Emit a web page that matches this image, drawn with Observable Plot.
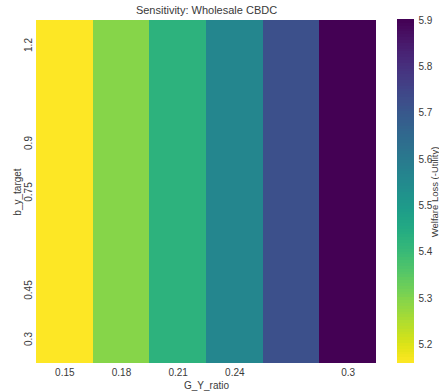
<!DOCTYPE html>
<html>
<head>
<meta charset="utf-8">
<script src="https://cdn.jsdelivr.net/npm/d3@7"></script>
<script src="https://cdn.jsdelivr.net/npm/@observablehq/plot@0.6"></script>
<style>
  html, body { margin: 0; padding: 0; background: #fff; }
  #wrap { position: relative; width: 439px; height: 392px; overflow: hidden; font-family: "Liberation Sans", Arial, sans-serif; }
  #wrap svg { position: absolute; top: 0; }
</style>
</head>
<body>
<div id="wrap"></div>
<script>
// ---- data ----
const title = "Sensitivity: Wholesale CBDC";
const xLabel = "G_Y_ratio";
const yLabel = "b_y_target";
const colorLabel = "Welfare Loss (-Utility)";
const gyRatio = [0.15, 0.18, 0.21, 0.24, 0.27, 0.30];
const xTickLabels = ["0.15", "0.18", "0.21", "0.24", "", "0.3"];
const byTarget = [0.3, 0.45, 0.6, 0.75, 0.9, 1.05, 1.2];
const yTicks = [0.3, 0.45, 0.75, 0.9, 1.2];
const yTickLabels = ["0.3", "0.45", "0.75", "0.9", "1.2"];
const welfareLoss = [5.16, 5.295, 5.425, 5.56, 5.72, 5.90]; // per G_Y_ratio column (same for each b_y_target row)
const colorTicks = [5.2, 5.3, 5.4, 5.5, 5.6, 5.7, 5.8, 5.9];
const colorDomain = [5.16, 5.90];

// table for the cells
const cells = [];
byTarget.forEach(b => gyRatio.forEach((g, i) => cells.push({g, b, v: welfareLoss[i]})));
const gHalf = 0.015, bHalf = 0.075;

const ink = "#3a3a3a";
const fontFamily = '"Liberation Sans", Arial, sans-serif';
const colorOpts = {type: "linear", scheme: "viridis", reverse: true, domain: colorDomain};
const mid = {textAnchor: "middle", lineAnchor: "middle"};

const main = Plot.plot({
  width: 439, height: 392,
  marginLeft: 36, marginRight: 63, marginTop: 20, marginBottom: 29,
  style: {fontFamily, fontSize: "10px", color: ink, background: "transparent"},
  x: {type: "linear", domain: [gyRatio[0] - gHalf, gyRatio[gyRatio.length - 1] + gHalf], axis: null},
  y: {type: "linear", domain: [byTarget[0] - bHalf, byTarget[byTarget.length - 1] + bHalf], axis: null},
  color: colorOpts,
  marks: [
    Plot.rect(cells, {x1: d => d.g - gHalf, x2: d => d.g + gHalf, y1: d => d.b - bHalf, y2: d => d.b + bHalf, fill: "v", inset: 0, shapeRendering: "crispEdges"}),
    Plot.text(gyRatio, {...mid, x: d => d, frameAnchor: "bottom", dy: 9, text: (d, i) => xTickLabels[i], fill: ink, fontSize: 10}),
    Plot.text([xLabel], {...mid, frameAnchor: "bottom", dy: 22, text: d => d, fill: ink, fontSize: 10}),
    Plot.text(yTicks, {...mid, y: d => d, frameAnchor: "left", dx: -8, rotate: -90, text: (d, i) => yTickLabels[i], fill: ink, fontSize: 10}),
    Plot.text([yLabel], {...mid, frameAnchor: "left", dx: -19, rotate: -90, text: d => d, fill: ink, fontSize: 10}),
    Plot.text([title], {...mid, frameAnchor: "top", dy: -10, text: d => d, fill: ink, fontSize: 11})
  ]
});
main.style.left = "0px";
document.getElementById("wrap").appendChild(main);

// colorbar
const steps = d3.range(0, 120).map(i => colorDomain[0] + (colorDomain[1] - colorDomain[0]) * i / 120);
const dstep = (colorDomain[1] - colorDomain[0]) / 120;
const bar = Plot.plot({
  width: 69, height: 392,
  marginLeft: 27, marginRight: 25, marginTop: 20, marginBottom: 29,
  style: {fontFamily, fontSize: "10px", color: ink, background: "transparent", overflow: "visible"},
  x: {type: "linear", domain: [0, 1], axis: null},
  y: {type: "linear", domain: colorDomain, axis: null},
  color: colorOpts,
  marks: [
    Plot.rect(steps, {x1: 0, x2: 1, y1: d => d, y2: d => d + dstep * 1.2, fill: d => d + dstep / 2, shapeRendering: "crispEdges"}),
    Plot.text(colorTicks, {y: d => d, frameAnchor: "right", textAnchor: "start", lineAnchor: "middle", dx: 4, text: d => d.toFixed(1), fill: ink, fontSize: 10}),
    Plot.text([colorLabel], {...mid, frameAnchor: "right", dx: 20, rotate: -90, text: d => d, fill: ink, fontSize: 9.5})
  ]
});
bar.style.left = "370px";
document.getElementById("wrap").appendChild(bar);
</script>
</body>
</html>
